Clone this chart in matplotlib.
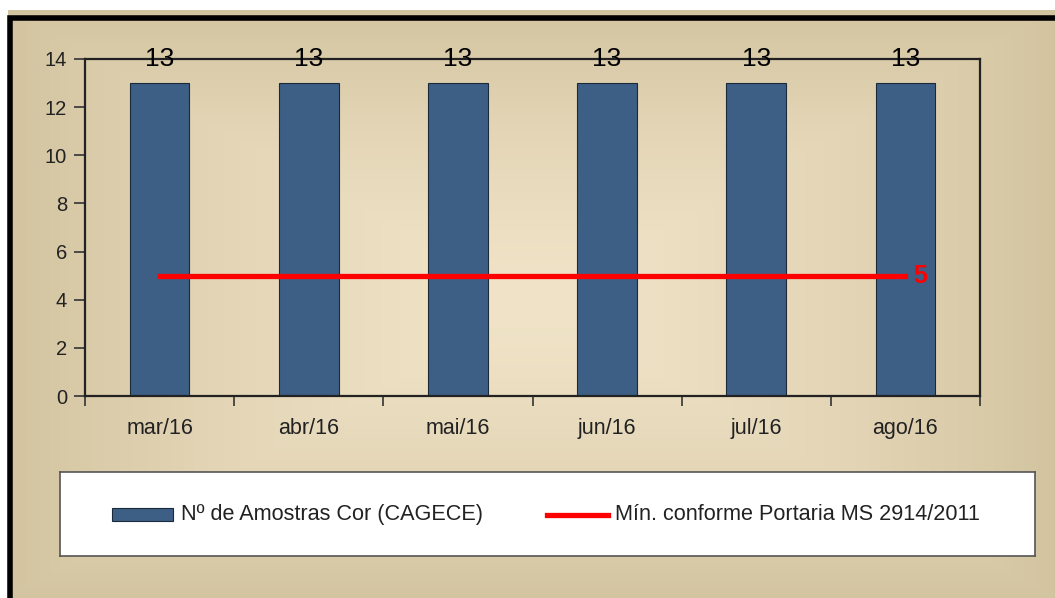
import matplotlib
matplotlib.use("Agg")
import matplotlib.pyplot as plt
import numpy as np
from matplotlib.patches import Rectangle

months = ['mar/16', 'abr/16', 'mai/16', 'jun/16', 'jul/16', 'ago/16']
amostras = [13, 13, 13, 13, 13, 13]
minimo = [5, 5, 5, 5, 5, 5]

plt.rcParams['font.family'] = ['Liberation Sans', 'DejaVu Sans']

W, H = 1055, 598
fig = plt.figure(figsize=(W / 100, H / 100), dpi=100)
fig.patch.set_facecolor('white')

# fundo bege com degrade em "quadrados"
bg = fig.add_axes([8 / W, 0, 1 - 8 / W, 1 - 10 / H])
bg.set_axis_off()
xx, yy = np.meshgrid(np.linspace(-1, 1, 400), np.linspace(-1, 1, 240))
d = np.maximum(np.abs(xx), np.abs(yy))
c0 = np.array([0.94, 0.89, 0.78])
c1 = np.array([0.83, 0.77, 0.63])
img = c0 + (c1 - c0) * d[..., None] ** 1.5
bg.imshow(img, aspect='auto', extent=[0, 1, 0, 1])
bg.set_xlim(0, 1)
bg.set_ylim(0, 1)
fig.patches.append(Rectangle((10 / W, -0.01), 1.0, 1 - 12 / H, transform=fig.transFigure,
                             fill=False, edgecolor='black', linewidth=4))

ax = fig.add_axes([85 / W, 1 - 396 / H, (980 - 85) / W, (396 - 59) / H])
ax.patch.set_alpha(0)
x = np.arange(len(months))
ax.bar(x, amostras, width=0.4, color='#3d5f85', edgecolor='#1a2a3a', linewidth=0.8, zorder=2)
ax.plot(x, minimo, color='#ff0000', linewidth=3.8, zorder=3)

for xi, v in zip(x, amostras):
    ax.text(xi, 14, str(v), ha='center', va='center', fontsize=19, color='black', zorder=4)
ax.text(x[-1] + 0.055, minimo[-1], str(minimo[-1]), ha='left', va='center', fontsize=18,
        color='#ff0000', fontweight='bold', zorder=4)

ax.set_xlim(-0.5, len(months) - 0.5)
ax.set_ylim(0, 14)
ax.set_yticks(range(0, 15, 2))
ax.set_xticks(x)
ax.set_xticklabels(months)
ax.set_xticks(np.arange(-0.5, len(months), 1), minor=True)
ax.tick_params(axis='x', which='major', length=0, pad=16, labelsize=15.5, labelcolor='#222222')
ax.tick_params(axis='x', which='minor', length=7, direction='out', width=1.2, color='#333333')
ax.tick_params(axis='y', length=8, width=1.2, pad=5, labelsize=14.5, labelcolor='#222222',
               color='#333333')
for s in ax.spines.values():
    s.set_color('#222222')
    s.set_linewidth(1.6)

# legenda
lax = fig.add_axes([60 / W, 1 - 556 / H, (1035 - 60) / W, (556 - 472) / H])
lax.set_xlim(0, 975)
lax.set_ylim(0, 84)
lax.set_xticks([])
lax.set_yticks([])
lax.set_facecolor('white')
for s in lax.spines.values():
    s.set_color('#555555')
    s.set_linewidth(1.2)
lax.add_patch(Rectangle((52, 35), 61, 13, facecolor='#3d5f85',
                        edgecolor='#1a2a3a', linewidth=0.8))
lax.text(121, 41.5, 'Nº de Amostras Cor (CAGECE)', ha='left', va='center', fontsize=15.6,
         color='#222222')
lax.plot([487, 548], [41.5, 41.5], color='#ff0000', linewidth=3.8)
lax.text(555, 41.5, 'Mín. conforme Portaria MS 2914/2011', ha='left', va='center', fontsize=15.6,
         color='#222222')

fig.savefig('out.png', dpi=100)
